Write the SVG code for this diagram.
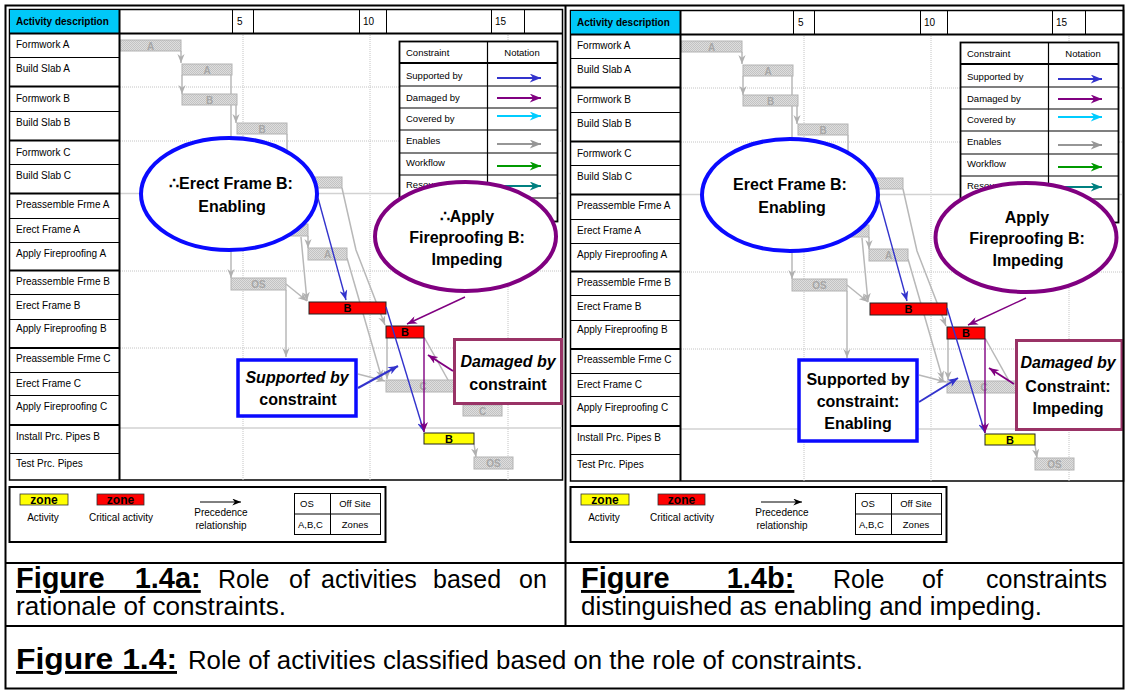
<svg xmlns="http://www.w3.org/2000/svg" width="1125" height="691" viewBox="0 0 1125 691">
<style>
  text { font-family: "Liberation Sans", Arial, Helvetica, sans-serif; fill: #000; }
  .act { font-size: 10px; }
  .hdr { font-size: 10px; font-weight: bold; }
  .tick { font-size: 10px; }
  .tbl { font-size: 9.5px; }
  .tblc { font-size: 9.5px; text-anchor: middle; }
  .gbar { fill: url(#hatch); stroke: #b3b3b3; stroke-width: 1; }
  .glbl { font-size: 10px; font-weight: bold; fill: #a6a6a6; text-anchor: middle; }
  .rbar { fill: #ff0000; stroke: #222; stroke-width: 1; }
  .ybar { fill: #ffff00; stroke: #222; stroke-width: 1; }
  .blbl { font-size: 11px; font-weight: bold; text-anchor: middle; }
  .grid { stroke: #c4c4c4; stroke-width: 1; stroke-dasharray: 1 1; fill: none; }
  .gsolid { stroke: #d2d2d2; stroke-width: 1.5; fill: none; }
  .thin { stroke: #000; stroke-width: 1; fill: none; }
  .thick { stroke: #000; stroke-width: 2; fill: none; }
  .glink { stroke: #b8b8b8; stroke-width: 1.5; fill: none; marker-end: url(#ah-gray); }
  .sup { stroke: #3333cc; stroke-width: 1.4; fill: none; marker-end: url(#ah-blue); }
  .dmg { stroke: #800080; stroke-width: 1.4; fill: none; marker-end: url(#ah-purple); }
  .sup2 { stroke: #3333cc; stroke-width: 2; fill: none; marker-end: url(#ah-blue); }
  .dmg2 { stroke: #800080; stroke-width: 2; fill: none; marker-end: url(#ah-purple); }
  .ell-b { fill: #fff; stroke: #0a0aff; stroke-width: 4; }
  .ell-p { fill: #fff; stroke: #800080; stroke-width: 4; }
  .box-b { fill: #fff; stroke: #0a0aff; stroke-width: 3.5; }
  .box-p { fill: #fff; stroke: #993366; stroke-width: 3; }
  .call { font-size: 16px; font-weight: bold; text-anchor: middle; }
  .calli { font-size: 16px; font-weight: bold; font-style: italic; text-anchor: middle; }
  .key { font-size: 10px; text-anchor: middle; }
  .keys { font-size: 9.5px; }
  .zone { font-size: 12px; font-weight: bold; text-anchor: middle; }
  .cap { font-size: 25px; }
  .capb { font-size: 29px; font-weight: bold; text-decoration: underline; }
</style>
<defs>
  <pattern id="hatch" width="2" height="2" patternUnits="userSpaceOnUse">
    <rect width="2" height="2" fill="#dedede"/>
    <rect width="1" height="1" fill="#c3c3c3"/>
    <rect x="1" y="1" width="1" height="1" fill="#c3c3c3"/>
  </pattern>
  <marker id="ah-gray" viewBox="0 0 10 8" refX="10" refY="4" markerWidth="9" markerHeight="8" markerUnits="userSpaceOnUse" orient="auto"><path d="M0,0 L10,4 L0,8 L3,4 Z" fill="#b0b0b0"/></marker>
  <marker id="ah-blue" viewBox="0 0 10 8" refX="10" refY="4" markerWidth="10" markerHeight="8" markerUnits="userSpaceOnUse" orient="auto"><path d="M0,0 L10,4 L0,8 L3,4 Z" fill="#3333cc"/></marker>
  <marker id="ah-purple" viewBox="0 0 10 8" refX="10" refY="4" markerWidth="10" markerHeight="8" markerUnits="userSpaceOnUse" orient="auto"><path d="M0,0 L10,4 L0,8 L3,4 Z" fill="#800080"/></marker>
  <marker id="ah-black" viewBox="0 0 10 8" refX="10" refY="4" markerWidth="10" markerHeight="7" markerUnits="userSpaceOnUse" orient="auto"><path d="M0,0 L10,4 L0,8 L3,4 Z" fill="#000"/></marker>
  <marker id="t-blue" viewBox="0 0 10 8" refX="10" refY="4" markerWidth="13" markerHeight="9" markerUnits="userSpaceOnUse" orient="auto"><path d="M0,0 L10,4 L0,8 L3,4 Z" fill="#3333cc"/></marker>
  <marker id="t-purple" viewBox="0 0 10 8" refX="10" refY="4" markerWidth="13" markerHeight="9" markerUnits="userSpaceOnUse" orient="auto"><path d="M0,0 L10,4 L0,8 L3,4 Z" fill="#800080"/></marker>
  <marker id="t-cyan" viewBox="0 0 10 8" refX="10" refY="4" markerWidth="13" markerHeight="9" markerUnits="userSpaceOnUse" orient="auto"><path d="M0,0 L10,4 L0,8 L3,4 Z" fill="#00ccff"/></marker>
  <marker id="t-gray" viewBox="0 0 10 8" refX="10" refY="4" markerWidth="13" markerHeight="9" markerUnits="userSpaceOnUse" orient="auto"><path d="M0,0 L10,4 L0,8 L3,4 Z" fill="#969696"/></marker>
  <marker id="t-green" viewBox="0 0 10 8" refX="10" refY="4" markerWidth="13" markerHeight="9" markerUnits="userSpaceOnUse" orient="auto"><path d="M0,0 L10,4 L0,8 L3,4 Z" fill="#009900"/></marker>
  <marker id="t-teal" viewBox="0 0 10 8" refX="10" refY="4" markerWidth="13" markerHeight="9" markerUnits="userSpaceOnUse" orient="auto"><path d="M0,0 L10,4 L0,8 L3,4 Z" fill="#008080"/></marker>

  <!-- Linear schedule shared by both panels -->
  <g id="schedule">
    <rect x="9.5" y="9.5" width="553" height="470.5" fill="#fff" stroke="#000" stroke-width="1.5"/>
    <g id="grid">
      <path class="grid" d="M243,33 V480 M370,33 V480 M508,33 V480"/>
      <path class="grid" d="M120,87 H562 M120,141 H562 M120,271 H562 M120,348 H562"/>
      <path class="gsolid" d="M120,193.5 H562 M120,428 H562"/>
    </g>
    <g id="links">
      <path class="glink" d="M181,51 V63"/>
      <path class="glink" d="M182,75 V94"/>
      <path class="glink" d="M231,75 V278"/>
      <path class="glink" d="M236,105 V123"/>
      <path class="glink" d="M287,134 V177"/>
      <path class="glink" d="M308,236 V248"/>
      <path class="glink" d="M301,237 L307,301"/>
      <path class="glink" d="M286,284 L307,301"/>
      <path class="glink" d="M286,290 V357"/>
      <path class="glink" d="M342,188 L356,250 L385,325"/>
      <path class="glink" d="M347,258 L382,379"/>
      <path class="glink" d="M387,338 V379"/>
      <path class="glink" d="M358,374 L385,381"/>
      <path class="glink" d="M424,337 L462,405"/>
      <path class="glink" d="M474,444 L476,457"/>
    </g>
    <g id="bars">
      <g id="bar-formwork-a"><rect class="gbar" x="120" y="40" width="61" height="11"/><text class="glbl" x="150.5" y="49.5">A</text></g>
      <g id="bar-slab-a"><rect class="gbar" x="182" y="64" width="50" height="11"/><text class="glbl" x="207" y="73.5">A</text></g>
      <g id="bar-formwork-b"><rect class="gbar" x="182" y="94" width="55" height="11"/><text class="glbl" x="209.5" y="103.5">B</text></g>
      <g id="bar-slab-b"><rect class="gbar" x="237" y="123" width="50" height="11"/><text class="glbl" x="262" y="132.5">B</text></g>
      <g id="bar-slab-c"><rect class="gbar" x="287" y="177" width="55" height="11"/></g>
      <g id="bar-erect-a"><rect class="gbar" x="250" y="224" width="58" height="12"/></g>
      <g id="bar-fire-a"><rect class="gbar" x="308" y="248" width="39" height="12"/><text class="glbl" x="327.5" y="258">A</text></g>
      <g id="bar-pre-b"><rect class="gbar" x="231" y="278" width="55" height="12"/><text class="glbl" x="258.5" y="288">OS</text></g>
      <g id="bar-erect-b"><rect class="rbar" x="309" y="302" width="77" height="12"/><text class="blbl" x="347.5" y="312">B</text></g>
      <g id="bar-fire-b"><rect class="rbar" x="386" y="326" width="38" height="12"/><text class="blbl" x="405" y="336">B</text></g>
      <g id="bar-erect-c"><rect class="gbar" x="386" y="380" width="84" height="12"/><text class="glbl" x="423" y="390">C</text></g>
      <g id="bar-fire-c"><rect class="gbar" x="463" y="405" width="39" height="11"/><text class="glbl" x="482.5" y="414.5">C</text></g>
      <g id="bar-pipes-b"><rect class="ybar" x="424" y="433" width="50" height="11"/><text class="blbl" x="449" y="442.5">B</text></g>
      <g id="bar-test"><rect class="gbar" x="474" y="457" width="39" height="12"/><text class="glbl" x="493.5" y="467">OS</text></g>
    </g>
    <g id="header">
      <rect x="10" y="10" width="109" height="23" fill="#00c8f8"/>
      <text class="hdr" x="16" y="25">Activity description</text>
      <path class="thin" stroke="#333" d="M232.5,10 V33 M253.5,10 V33 M359.5,10 V33 M386.5,10 V33 M491.5,10 V33 M524.5,10 V33"/>
      <text class="tick" x="237" y="25">5</text>
      <text class="tick" x="363" y="25">10</text>
      <text class="tick" x="495" y="25">15</text>
      <path class="thick" d="M10,33.5 H562"/>
    </g>
    <g id="activities">
      <path class="thick" d="M119.5,10 V480"/>
      <path class="thin" d="M10,57.5 H119 M10,111.5 H119 M10,164.5 H119 M10,218.5 H119 M10,242.5 H119 M10,294.5 H119 M10,319.5 H119 M10,372.5 H119 M10,395.5 H119 M10,453.5 H119"/>
      <path class="thick" d="M10,86.5 H119 M10,140.5 H119 M10,193.5 H119 M10,270.5 H119 M10,348 H119 M10,425 H119"/>
      <text class="act" x="16" y="48">Formwork A</text>
      <text class="act" x="16" y="72">Build Slab A</text>
      <text class="act" x="16" y="102">Formwork B</text>
      <text class="act" x="16" y="126">Build Slab B</text>
      <text class="act" x="16" y="156">Formwork C</text>
      <text class="act" x="16" y="179">Build Slab C</text>
      <text class="act" x="16" y="208">Preassemble Frme A</text>
      <text class="act" x="16" y="233">Erect Frame A</text>
      <text class="act" x="16" y="257">Apply Fireproofing A</text>
      <text class="act" x="16" y="285">Preassemble Frme B</text>
      <text class="act" x="16" y="309">Erect Frame B</text>
      <text class="act" x="16" y="332">Apply Fireproofing B</text>
      <text class="act" x="16" y="362">Preassemble Frme C</text>
      <text class="act" x="16" y="387">Erect Frame C</text>
      <text class="act" x="16" y="410">Apply Fireproofing C</text>
      <text class="act" x="16" y="440">Install Prc. Pipes B</text>
      <text class="act" x="16" y="467">Test Prc. Pipes</text>
    </g>
    <g id="constraint-table">
      <rect x="399.5" y="41.5" width="158" height="180" fill="#fff" stroke="#000" stroke-width="1.8"/>
      <path class="thick" d="M400,63 H557"/>
      <path stroke="#000" stroke-width="1.2" fill="none" d="M400,86 H557 M400,108 H557 M400,130 H557 M400,153 H557 M400,175 H557 M400,198 H557 M487.5,42 V221"/>
      <text class="tbl" x="406" y="56">Constraint</text>
      <text class="tblc" x="522" y="56">Notation</text>
      <text class="tbl" x="406" y="79">Supported by</text>
      <text class="tbl" x="406" y="101">Damaged by</text>
      <text class="tbl" x="406" y="122">Covered by</text>
      <text class="tbl" x="406" y="144">Enables</text>
      <text class="tbl" x="406" y="166">Workflow</text>
      <text class="tbl" x="406" y="188">Resources</text>
      <path d="M497,78 H541" stroke="#3333cc" stroke-width="2" marker-end="url(#t-blue)"/>
      <path d="M497,98 H541" stroke="#800080" stroke-width="2" marker-end="url(#t-purple)"/>
      <path d="M497,116 H541" stroke="#00ccff" stroke-width="2" marker-end="url(#t-cyan)"/>
      <path d="M497,144 H541" stroke="#969696" stroke-width="2" marker-end="url(#t-gray)"/>
      <path d="M497,166 H541" stroke="#009900" stroke-width="2" marker-end="url(#t-green)"/>
      <path d="M497,186 H541" stroke="#008080" stroke-width="2" marker-end="url(#t-teal)"/>
    </g>
  </g>

  <!-- Symbol key shared by both panels -->
  <g id="key">
    <rect x="9.5" y="487" width="376" height="55" fill="#fff" stroke="#000" stroke-width="2"/>
    <rect x="20" y="494" width="48" height="11" fill="#ffff00" stroke="#333" stroke-width="0.8"/>
    <text class="zone" x="44" y="503.5" fill="#333">zone</text>
    <rect x="97" y="494" width="47" height="11" fill="#ff0000" stroke="#333" stroke-width="0.8"/>
    <text class="zone" x="120.5" y="503.5" fill="#222">zone</text>
    <text class="key" x="43" y="521">Activity</text>
    <text class="key" x="121" y="521">Critical activity</text>
    <path d="M200,502 H241" stroke="#000" stroke-width="1" marker-end="url(#ah-black)"/>
    <text class="key" font-size="9.5" x="221" y="516">Precedence</text>
    <text class="key" font-size="9.5" x="221" y="529">relationship</text>
    <rect x="294.5" y="493.5" width="86" height="41" fill="#fff" stroke="#000" stroke-width="1"/>
    <path class="thin" d="M294.5,514 H380.5 M330.5,493.5 V534.5"/>
    <text class="keys" x="300" y="507">OS</text>
    <text class="keys" x="355" y="507" text-anchor="middle">Off Site</text>
    <text class="keys" x="298" y="528">A,B,C</text>
    <text class="keys" x="355" y="528" text-anchor="middle">Zones</text>
  </g>
</defs>

<rect width="1125" height="691" fill="#fff"/>

<!-- Panel (a): schedule with rationale of constraints -->
<g id="panel-a">
  <use href="#schedule"/>
  <g id="enabling-a">
    <ellipse class="ell-b" cx="229" cy="194" rx="88" ry="56"/>
    <text class="call" x="231" y="189">∴Erect Frame B:</text>
    <text class="call" x="232" y="212">Enabling</text>
  </g>
  <g id="impeding-a">
    <ellipse class="ell-p" cx="465.5" cy="236.5" rx="90.5" ry="54.5"/>
    <text class="call" x="467" y="222">∴Apply</text>
    <text class="call" x="467" y="243">Fireproofing B:</text>
    <text class="call" x="467" y="265">Impeding</text>
  </g>
  <g id="supported-a">
    <rect class="box-b" x="238" y="360" width="118" height="56"/>
    <text class="calli" x="297" y="383">Supported by</text>
    <text class="call" x="298" y="405">constraint</text>
  </g>
  <g id="damaged-a">
    <rect class="box-p" x="454.5" y="339.5" width="107" height="64"/>
    <text class="calli" x="508" y="367">Damaged by</text>
    <text class="call" x="508" y="390">constraint</text>
  </g>
  <g id="constraints-a">
    <path class="sup" d="M318,198 L346,300"/>
    <path class="sup" d="M386,307 L424,432"/>
    <path class="dmg" d="M424,338 V432"/>
    <path class="dmg" d="M465,297 L407,324"/>
    <path class="sup2" d="M358,388 L398,366"/>
    <path class="dmg2" d="M453,371 L428,355"/>
  </g>
  <use href="#key"/>
</g>

<!-- Panel (b): constraints distinguished as enabling and impeding -->
<g id="panel-b">
  <use href="#schedule" transform="translate(561,1)"/>
  <g id="enabling-b">
    <ellipse class="ell-b" cx="790" cy="195" rx="88" ry="56"/>
    <text class="call" x="790" y="190">Erect Frame B:</text>
    <text class="call" x="792" y="213">Enabling</text>
  </g>
  <g id="impeding-b">
    <ellipse class="ell-p" cx="1026" cy="237.5" rx="90.5" ry="54.5"/>
    <text class="call" x="1027" y="223">Apply</text>
    <text class="call" x="1027" y="244">Fireproofing B:</text>
    <text class="call" x="1028" y="266">Impeding</text>
  </g>
  <g id="supported-b">
    <rect class="box-b" x="799" y="360" width="118" height="81"/>
    <text class="call" x="858" y="385">Supported by</text>
    <text class="call" x="858" y="407">constraint:</text>
    <text class="call" x="858" y="429">Enabling</text>
  </g>
  <g id="damaged-b">
    <rect class="box-p" x="1016.5" y="340.5" width="105.5" height="89"/>
    <text class="calli" x="1068" y="368">Damaged by</text>
    <text class="call" x="1068" y="392">Constraint:</text>
    <text class="call" x="1068" y="414">Impeding</text>
  </g>
  <g id="constraints-b">
    <path class="sup" d="M879,199 L907,301"/>
    <path class="sup" d="M947,308 L985,433"/>
    <path class="dmg" d="M985,339 V433"/>
    <path class="dmg" d="M1026,298 L968,325"/>
    <path class="sup2" d="M919,402 L958,378"/>
    <path class="dmg2" d="M1014,384 L989,368"/>
  </g>
  <use href="#key" transform="translate(561,0)"/>
</g>

<!-- Table frame -->
<g id="frame" fill="none" stroke="#000">
  <rect x="5.5" y="5.5" width="1118" height="683" stroke-width="2"/>
  <path stroke-width="2" d="M565.5,5.5 V626 M5.5,563 H1123.5 M5.5,626 H1123.5"/>
</g>

<!-- Captions -->
<g id="captions">
  <text class="capb" x="16" y="588" style="word-spacing:22px">Figure 1.4a:</text>
  <text class="cap" x="218" y="588">Role</text>
  <text class="cap" x="289" y="588">of</text>
  <text class="cap" x="321" y="588">activities</text>
  <text class="cap" x="433" y="588">based</text>
  <text class="cap" x="519" y="588">on</text>
  <text class="cap" x="16" y="615" textLength="270" lengthAdjust="spacingAndGlyphs">rationale of constraints.</text>

  <text class="capb" x="581" y="588" style="word-spacing:49px">Figure 1.4b:</text>
  <text class="cap" x="833" y="588">Role</text>
  <text class="cap" x="922" y="588">of</text>
  <text class="cap" x="986" y="588">constraints</text>
  <text class="cap" x="581" y="615" textLength="461" lengthAdjust="spacingAndGlyphs">distinguished as enabling and impeding.</text>

  <text class="capb" x="16" y="669" textLength="161" lengthAdjust="spacingAndGlyphs">Figure 1.4:</text>
  <text class="cap" x="188" y="669" textLength="675" lengthAdjust="spacingAndGlyphs">Role of activities classified based on the role of constraints.</text>
</g>
</svg>
